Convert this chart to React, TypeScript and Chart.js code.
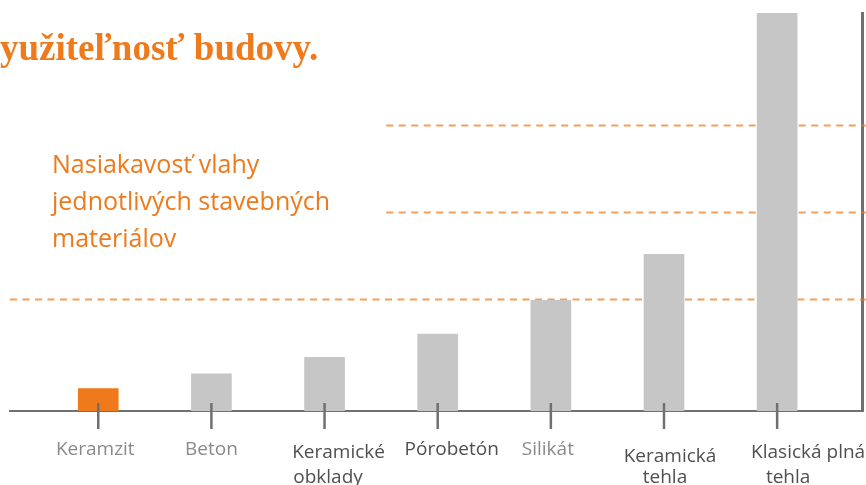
import React, { useEffect, useRef } from "react";
import { Chart, registerables } from "chart.js";

Chart.register(...registerables);

const categories: string[][] = [
  ["Keramzit"],
  ["Beton"],
  ["Keramické", "obklady"],
  ["Pórobetón"],
  ["Silikát"],
  ["Keramická", "tehla"],
  ["Klasická plná", "tehla"],
];
const values = [1.3, 2.15, 3.1, 4.45, 6.4, 9.05, 23];
const refLevels = [6.5, 11.5, 16.5];

const barColors = ["#ee7a1b", "#c6c6c6", "#c6c6c6", "#c6c6c6", "#c6c6c6", "#c6c6c6", "#c6c6c6"];
const labelColors = ["#8a8a8a", "#8a8a8a", "#4f4f4f", "#4f4f4f", "#8a8a8a", "#4f4f4f", "#4f4f4f"];
// per-line label placement [dx from tick, baseline below axis]
const labelPlacement: number[][][] = [
  [[-3, 44]],
  [[0, 44]],
  [[14, 47], [3.5, 72]],
  [[14, 44]],
  [[-3, 44]],
  [[6, 51], [1, 72]],
  [[31, 47], [11, 72]],
];
const AXIS = "#707070";
const ORANGE = "#ee7a1b";

const overlayPlugin = {
  id: "overlay",
  beforeDatasetsDraw(chart: any) {
    const { ctx, chartArea, scales } = chart;
    const y = scales.y;
    const x = scales.x;
    ctx.save();
    ctx.strokeStyle = "rgba(238,122,27,0.72)";
    ctx.lineWidth = 2;
    ctx.setLineDash([7, 5.5]);
    refLevels.forEach((lv, i) => {
      const py = Math.round(y.getPixelForValue(lv)) + 0.5;
      const startX = i === 0 ? chartArea.left : x.getPixelForValue(2.545);
      ctx.beginPath();
      ctx.moveTo(startX, py);
      ctx.lineTo(chart.width, py);
      ctx.stroke();
    });
    ctx.restore();
  },
  afterDatasetsDraw(chart: any) {
    const { ctx, chartArea, scales } = chart;
    const x = scales.x;
    ctx.save();
    ctx.strokeStyle = AXIS;
    ctx.lineWidth = 2.5;
    categories.forEach((_, i) => {
      const px = x.getPixelForValue(i);
      ctx.beginPath();
      ctx.moveTo(px, chartArea.bottom - 8);
      ctx.lineTo(px, chartArea.bottom + 18);
      ctx.stroke();
    });
    ctx.font = "19px 'Open Sans'";
    ctx.textAlign = "center";
    ctx.textBaseline = "alphabetic";
    categories.forEach((lines, i) => {
      const px = x.getPixelForValue(i);
      ctx.fillStyle = labelColors[i];
      lines.forEach((t, j) => {
        const [dx, dy] = labelPlacement[i][j];
        ctx.fillText(t, px + dx, chartArea.bottom + dy);
      });
    });
    ctx.restore();
  },
};

export default function App() {
  const ref = useRef<HTMLCanvasElement | null>(null);
  useEffect(() => {
    if (!ref.current) return;
    const chart = new Chart(ref.current, {
      type: "bar",
      data: {
        datasets: [
          {
            data: values.map((v, i) => ({ x: i, y: v })),
            backgroundColor: barColors,
            borderWidth: 0,
            barThickness: 40,
          },
        ],
      },
      options: {
        animation: false,
        responsive: false,
        maintainAspectRatio: false,
        layout: { padding: { left: 10, top: 13, right: 0, bottom: 0 } },
        plugins: { legend: { display: false }, tooltip: { enabled: false } },
        scales: {
          x: {
            type: "linear",
            position: "bottom",
            min: -0.78,
            max: 6.75,
            offset: false,
            grid: { display: false, drawTicks: false },
            border: { display: true, color: AXIS, width: 2 },
            afterFit: (s: any) => {
              s.height = 74;
            },
            ticks: {
              display: false,
              stepSize: 1,
              includeBounds: false,
              autoSkip: false,
            },
          },
          y: {
            type: "linear",
            position: "right",
            min: 0,
            max: 23,
            grid: { display: false, drawTicks: false },
            border: { display: true, color: AXIS, width: 3 },
            ticks: { display: false },
            afterFit: (s: any) => {
              s.width = 4;
            },
          },
        },
      },
      plugins: [overlayPlugin],
    });
    return () => chart.destroy();
  }, []);

  return (
    <div style={{ position: "fixed", left: 0, top: 0, width: 866, height: 485, background: "#fff", overflow: "hidden" }}>
      <canvas ref={ref} width={866} height={485} style={{ position: "absolute", left: 0, top: 0, width: 866, height: 485 }} />
      <div
        style={{
          position: "absolute",
          left: 0,
          top: 26,
          fontFamily: "'Liberation Serif', serif",
          fontWeight: 700,
          fontSize: 37,
          lineHeight: "normal",
          color: ORANGE,
          whiteSpace: "nowrap",
        }}
      >
        yužiteľnosť budovy.
      </div>
      <div
        style={{
          position: "absolute",
          left: 52,
          top: 145,
          fontFamily: "'Open Sans', sans-serif",
          fontSize: 25,
          lineHeight: "37px",
          color: ORANGE,
          whiteSpace: "nowrap",
        }}
      >
        Nasiakavosť vlahy
        <br />
        jednotlivých stavebných
        <br />
        materiálov
      </div>
    </div>
  );
}
